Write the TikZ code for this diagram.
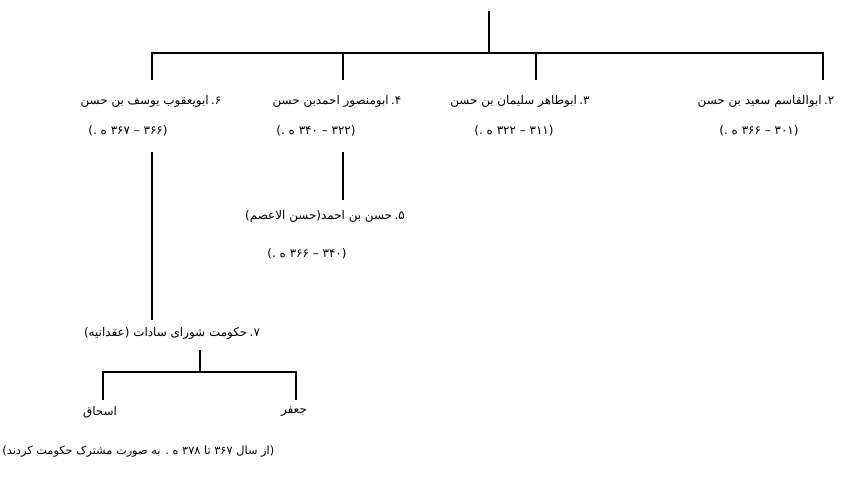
\documentclass[tikz,border=0pt]{standalone}
\usepackage{fontspec}
\usetikzlibrary{positioning}
\TeXXeTstate=1
\newfontfamily\arabicfont[Script=Arabic]{DejaVu Sans}
\newcommand{\numgap}{\hspace{0.2em}}
\tikzset{
  lbl/.style={font=\arabicfont\fontsize{10.2}{12}\selectfont, inner sep=1pt},
  link/.style={line width=1.1pt}
}

\begin{document}
\begin{tikzpicture}[x=0.03cm, y=-0.03cm, line join=miter]
	\useasboundingbox (0,0) rectangle (854,489);

	% first generation, sons of hasan
	\coordinate (root) at (489,11);
	\coordinate (bus) at (489,53);
	\node[lbl] (n2) at (766,101) {\beginR ۲.\numgap ابوالقاسم سعید بن حسن\endR};
	\node[lbl] (d2) at (759,131) {\beginR (۳۰۱ – ۳۶۶ ه .)\endR};
	\node[lbl] (n3) at (520,101) {\beginR ۳.\numgap ابوطاهر سلیمان بن حسن\endR};
	\node[lbl] (d3) at (514,131) {\beginR (۳۱۱ – ۳۲۲ ه .)\endR};
	\node[lbl] (n4) at (337,101) {\beginR ۴.\numgap ابومنصور احمدبن حسن\endR};
	\node[lbl] (d4) at (316,131) {\beginR (۳۲۲ – ۳۴۰ ه .)\endR};
	\node[lbl] (n6) at (151,101) {\beginR ۶.\numgap ابویعقوب یوسف بن حسن\endR};
	\node[lbl] (d6) at (128,131) {\beginR (۳۶۶ – ۳۶۷ ه .)\endR};

	% drops from the bus line
	\coordinate (t2) at (823,80);
	\coordinate (t3) at (536,80);
	\coordinate (t4) at (343,80);
	\coordinate (t6) at (152,80);
	\draw[link] (root) -- (bus);
	\draw[link] (t6) |- (bus) -| (t2);
	\draw[link] (t4) -- (t4 |- bus);
	\draw[link] (t3) -- (t3 |- bus);

	% son of abu mansur
	\node[lbl] (n5) at (325,216) {\beginR ۵.\numgap حسن بن احمد(حسن الاعصم)\endR};
	\node[lbl] (d5) at (307,254) {\beginR (۳۴۰ – ۳۶۶ ه .)\endR};
	\coordinate (a4) at (343,152);
	\coordinate (a5) at (343,200);
	\draw[link] (a4) -- (a5);

	% council of the sadat
	\node[lbl] (n7) at (172,333) {\beginR ۷.\numgap حکومت شورای سادات (عقدانیه)\endR};
	\coordinate (a6) at (152,152);
	\coordinate (a7) at (152,320);
	\draw[link] (a6) -- (a7);
	\node[lbl] (ish) at (100,412) {\beginR اسحاق\endR};
	\node[lbl] (jaf) at (294,412) {\beginR جعفر\endR};
	\node[lbl, anchor=west, font=\arabicfont\fontsize{9.7}{12}\selectfont] (note) at (1,452) {\beginR (از سال ۳۶۷ تا ۳۷۸ ه . به صورت مشترک حکومت کردند)\endR};
	\coordinate (b7) at (200,350);
	\coordinate (bus2) at (200,372);
	\coordinate (ti) at (103,400);
	\coordinate (tj) at (296,400);
	\draw[link] (b7) -- (bus2);
	\draw[link] (ti) |- (bus2) -| (tj);
\end{tikzpicture}
\end{document}
